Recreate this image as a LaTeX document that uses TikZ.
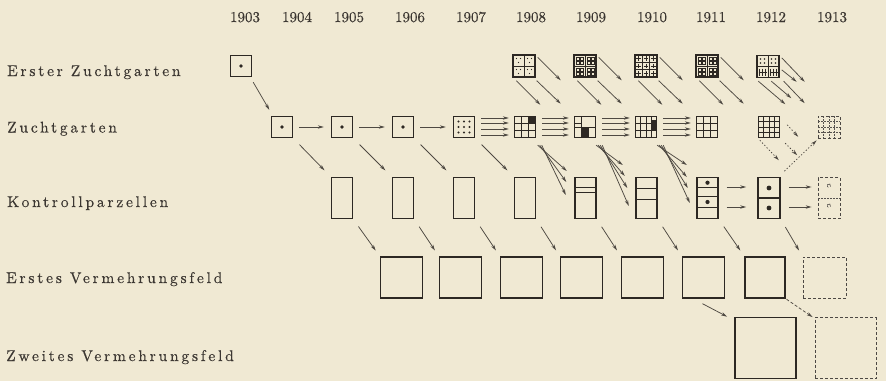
\documentclass[tikz,border=0pt]{standalone}
\usepackage{fontspec}
\newfontfamily\labfont{lmroman10-regular}[Extension=.otf, LetterSpace=18, FakeBold=0.4]
\newfontfamily\yrfont{lmroman10-regular}[Extension=.otf, FakeBold=0.4]
\usetikzlibrary{arrows.meta}
\definecolor{bg}{RGB}{240,233,211}
\definecolor{ink}{RGB}{45,40,35}
\definecolor{arrowc}{RGB}{78,73,66}
\definecolor{txt}{RGB}{60,55,50}
\tikzset{
 box/.style={draw=ink, line width=1.4pt, inner sep=0pt},
 sq/.style={box, minimum width=21pt, minimum height=21pt},
 kp/.style={box, minimum width=21pt, minimum height=41pt},
 ev/.style={box, minimum width=42pt, minimum height=41pt},
 zv/.style={box, line width=1.7pt, minimum width=61pt, minimum height=61pt},
 dbox/.style={draw=ink!85, line width=0.8pt, dash pattern=on 3pt off 2pt, inner sep=0pt},
 arr/.style={draw=arrowc, line width=0.75pt, -{Stealth[length=6pt,width=3.4pt]}},
 darr/.style={arr, dash pattern=on 3pt off 2pt},
 dotarr/.style={arr, dash pattern=on 1.3pt off 2pt},
 gl/.style={draw=ink, line width=0.8pt},
 tl/.style={draw=ink, line width=0.5pt},
 dgl/.style={draw=ink!80, line width=0.6pt, dash pattern=on 1.5pt off 1.5pt},
 yr/.style={text=txt, font=\yrfont\fontsize{15}{16}\selectfont, anchor=base, inner sep=0pt},
 lab/.style={text=txt, font=\labfont\fontsize{15.5}{17}\selectfont, anchor=base west, inner sep=0pt},
}
\newcommand{\cellgrid}[6]{%
 \begin{scope}[shift={(#1.center)}]
  \pgfmathtruncatemacro{\cgc}{#2-1}
  \pgfmathtruncatemacro{\cgr}{#3-1}
  \foreach \k in {1,...,\cgc}{\draw[#6] ({-#4+2*#4*\k/#2},-#5) -- ({-#4+2*#4*\k/#2},#5);}
  \foreach \k in {1,...,\cgr}{\draw[#6] (-#4,{-#5+2*#5*\k/#3}) -- (#4,{-#5+2*#5*\k/#3});}
 \end{scope}}
\newcommand{\seedarr}[1]{%
 \draw[arr] ([shift={(2,3)}]#1.north east) -- ([shift={(25,26)}]#1.north east);
 \draw[arr] ([shift={(4,3)}]#1.south west) -- ([shift={(28,27)}]#1.south west);
 \draw[arr] ([shift={(1,3)}]#1.south east) -- ([shift={(25,26)}]#1.south east);}
\begin{document}
\begin{tikzpicture}[x=1pt,y=-1pt]
\path[use as bounding box, fill=bg] (0,0) rectangle (886,381);

% years
\foreach \yy/\xx in {1903/245,1904/297,1905/349,1906/410,1907/471,1908/531,1909/591,1910/652,1911/711,1912/771,1913/832}
  \node[yr] (y\yy) at (\xx,22) {\yy};

% row labels
\node[lab] (l1) at (7,76) {Erster Zuchtgarten};
\node[lab] (l2) at (7,132.5) {Zuchtgarten};
\node[lab] (l3) at (7,207) {Kontrollparzellen};
\node[lab] (l4) at (6,283) {Erstes Vermehrungsfeld};
\node[lab] (l5) at (6,361) {Zweites Vermehrungsfeld};

% Erster Zuchtgarten
\node[sq] (g03) at (241,66) {};
\fill[ink] (g03) circle (1.8pt);
\node[sq, minimum width=22pt, minimum height=22pt] (g08) at (524,66) {};
\node[sq, minimum width=22pt, minimum height=22pt] (g09) at (585,66) {};
\node[sq, minimum width=22pt, minimum height=22pt] (g10) at (646,66) {};
\node[sq, minimum width=22pt, minimum height=22pt] (g11) at (707,66) {};
\node[sq, minimum width=22pt, minimum height=22pt] (g12) at (768,66.5) {};
\cellgrid{g08}{2}{2}{11}{11}{gl}
\cellgrid{g09}{2}{2}{11}{11}{gl}
\cellgrid{g10}{3}{3}{11}{11}{gl}
\cellgrid{g11}{2}{2}{11}{11}{gl}
\cellgrid{g12}{2}{2}{11}{11}{gl}
% patterns
\begin{scope}[shift={(g08.center)}]
 \foreach \cx in {-5.5,5.5}\foreach \cy in {-5.5,5.5}{
  \fill[ink] (\cx-2,\cy-2) circle (0.7pt) (\cx+2,\cy-2) circle (0.7pt) (\cx,\cy+2) circle (0.7pt);}
\end{scope}
\begin{scope}[shift={(g09.center)}]
 \foreach \cx in {-5.5,5.5}\foreach \cy in {-5.5,5.5}{
  \draw[tl] (\cx-3.5,\cy-3) rectangle (\cx-0.5,\cy) (\cx+0.5,\cy-3) rectangle (\cx+3.5,\cy)
            (\cx-3.5,\cy+0.8) rectangle (\cx-0.5,\cy+3.5) (\cx+0.5,\cy+0.8) rectangle (\cx+3.5,\cy+3.5);}
\end{scope}
\begin{scope}[shift={(g10.center)}]
 \foreach \cx in {-7.33,0,7.33}\foreach \cy in {-7.33,0,7.33}{
  \draw[tl] (\cx-2.3,\cy) -- (\cx+2.3,\cy) (\cx,\cy-2.3) -- (\cx,\cy+2.3);}
\end{scope}
\begin{scope}[shift={(g11.center)}]
 \foreach \cx in {-5.5,5.5}\foreach \cy in {-5.5,5.5}{
  \draw[tl] (\cx-3.5,\cy-3) rectangle (\cx-0.5,\cy) (\cx+0.5,\cy-3) rectangle (\cx+3.5,\cy)
            (\cx-3.5,\cy+0.8) rectangle (\cx-0.5,\cy+3.5) (\cx+0.5,\cy+0.8) rectangle (\cx+3.5,\cy+3.5);}
\end{scope}
\begin{scope}[shift={(g12.center)}]
 \foreach \cx in {-5.5,5.5}{
  \fill[ink] (\cx-2,-7.5) circle (0.8pt) (\cx+2,-7.5) circle (0.8pt) (\cx-2,-3.5) circle (0.8pt) (\cx+2,-3.5) circle (0.8pt);
  \draw[tl] (\cx-3,2) -- (\cx-3,9) (\cx,2) -- (\cx,9) (\cx+3,2) -- (\cx+3,9) (\cx-4,5.5) -- (\cx+4,5.5);}
\end{scope}

% Zuchtgarten
\node[sq] (z04) at (282,127) {};
\node[sq] (z05) at (342,127) {};
\node[sq] (z06) at (403,127) {};
\foreach \n in {z04,z05,z06} \fill[ink] (\n) circle (1.8pt);
\node[sq] (z07) at (464,127) {};
\begin{scope}[shift={(z07.center)}]
 \foreach \cx in {-5.5,0,5.5}\foreach \cy in {-5.5,0,5.5}\fill[ink] (\cx,\cy) circle (1.1pt);
\end{scope}
\node[sq] (z08) at (525,127) {};
\begin{scope}[shift={(z08.center)}]
 \fill[ink] (3.5,-10.5) rectangle (10.5,-3.5);
\end{scope}
\cellgrid{z08}{3}{3}{10.5}{10.5}{gl}
\node[sq] (z09) at (585,127) {};
\begin{scope}[shift={(z09.center)}]
 \fill[ink] (-3.5,0) rectangle (3.5,10.5);
 \draw[gl] (-3.5,-10.5) -- (-3.5,10.5) (3.5,0) -- (3.5,10.5) (-10.5,0) -- (10.5,0) (-10.5,-4) -- (-3.5,-4);
\end{scope}
\node[sq] (z10) at (646,127) {};
\begin{scope}[shift={(z10.center)}]
 \fill[ink] (5.25,-7) rectangle (10.5,3.5);
\end{scope}
\cellgrid{z10}{4}{3}{10.5}{10.5}{gl}
\node[sq] (z11) at (707,127) {};
\cellgrid{z11}{3}{3}{10.5}{10.5}{gl}
\node[sq] (z12) at (769,127) {};
\cellgrid{z12}{4}{4}{10.5}{10.5}{gl}
\node[dbox, minimum width=22pt, minimum height=22pt] (z13) at (829,127) {};
\cellgrid{z13}{4}{4}{11}{11}{dgl}

% Kontrollparzellen
\node[kp] (k05) at (342,198) {};
\node[kp] (k06) at (403,198) {};
\node[kp] (k07) at (464,198) {};
\node[kp] (k08) at (525,198) {};
\node[kp] (k09) at (585.5,198) {};
\node[kp] (k10) at (646.5,198) {};
\node[kp] (k11) at (707.5,198) {};
\node[kp, line width=1.7pt, minimum width=22pt] (k12) at (769,198) {};
\node[dbox, minimum width=22pt, minimum height=41pt] (k13) at (829,198) {};
\begin{scope}[shift={(k09.center)}]
 \draw[gl] (-10.5,-10.7) -- (10.5,-10.7) (-10.5,-6.1) -- (10.5,-6.1);
\end{scope}
\begin{scope}[shift={(k10.center)}]
 \draw[gl] (-10.5,-9.4) -- (10.5,-9.4) (-10.5,1.6) -- (10.5,1.6);
\end{scope}
\begin{scope}[shift={(k11.center)}]
 \draw[gl] (-10.5,-10.5) -- (10.5,-10.5) (-10.5,-1.2) -- (10.5,-1.2) (-10.5,9.5) -- (10.5,9.5);
 \fill[ink] (0,-15.3) circle (2.1pt) (0,4) circle (2.1pt);
\end{scope}
\begin{scope}[shift={(k12.center)}]
 \draw[ink, line width=1.4pt] (-11,0) -- (11,0);
 \fill[ink] (0,-10) circle (2.4pt) (0,10) circle (2.4pt);
\end{scope}
\begin{scope}[shift={(k13.center)}]
 \draw[dgl] (-11,0) -- (11,0);
 \draw[ink!80, line width=0.6pt] (1.5,-11.5) arc (-30:250:1.8pt) (1.5,8.5) arc (-30:250:1.8pt);
\end{scope}

% Erstes Vermehrungsfeld
\node[ev] (e06) at (401.5,277.5) {};
\node[ev] (e07) at (460.5,277.5) {};
\node[ev] (e08) at (521.5,277.5) {};
\node[ev] (e09) at (581.5,277.5) {};
\node[ev] (e10) at (642.5,277.5) {};
\node[ev] (e11) at (703.5,277.5) {};
\node[ev, minimum width=40pt] (e12) at (765,277.5) {};
\node[dbox, minimum width=43pt, minimum height=41pt] (e13) at (824.5,277.5) {};

% Zweites Vermehrungsfeld
\node[zv] (v2a) at (765.5,348) {};
\node[dbox, minimum width=61pt, minimum height=61pt] (v2b) at (845.5,348) {};

% ---------- connectors ----------
\draw[arr] ([shift={(1,5)}]g03.south east) -- ([shift={(-1.5,-6)}]z04.north west);
\seedarr{g08}
\seedarr{g09}
\seedarr{g10}
\seedarr{g11}
\draw[arr] ([shift={(2,3)}]g12.north east) -- ([shift={(25,27)}]g12.north east);
\draw[arr] ([shift={(2,15)}]g12.north east) -- ([shift={(17,27)}]g12.north east);
\draw[arr] ([shift={(2,3)}]g12.south west) -- ([shift={(29,26)}]g12.south west);
\draw[arr] ([shift={(15,3)}]g12.south west) -- ([shift={(35,20)}]g12.south west);
\draw[arr] ([shift={(4,3)}]g12.south east) -- ([shift={(25,25)}]g12.south east);

% Zuchtgarten horizontal
\draw[arr, shorten <=6pt, shorten >=7pt] (z04) -- (z05);
\draw[arr, shorten <=6pt, shorten >=7pt] (z05) -- (z06);
\draw[arr, shorten <=6pt, shorten >=7pt] (z06) -- (z07);
\foreach \a/\b in {z07/z08,z08/z09,z09/z10,z10/z11}
  \foreach \dy in {-9,-4,2,8}
    \draw[arr, shorten <=6pt, shorten >=5pt] ([shift={(0,\dy)}]\a.east) -- ([shift={(0,\dy)}]\b.west);

% Zuchtgarten -> Kontrollparzellen
\foreach \a/\b in {z04/k05,z05/k06,z06/k07,z07/k08}
  \draw[arr, shorten <=9pt, shorten >=9pt] (\a.south east) -- (\b.north west);
\draw[arr] ([shift={(1.5,7)}]z08.south east) -- ([shift={(-7.5,-27)}]k09.west);
\draw[arr] ([shift={(3.5,7)}]z08.south east) -- ([shift={(-8,-16)}]k09.west);
\draw[arr] ([shift={(5.5,7)}]z08.south east) -- ([shift={(-8.5,-3)}]k09.west);
\draw[arr] ([shift={(0,7)}]z09.south east) -- ([shift={(-12.5,-33)}]k10.west);
\draw[arr] ([shift={(2,7)}]z09.south east) -- ([shift={(-10.5,-22)}]k10.west);
\draw[arr] ([shift={(4,7)}]z09.south east) -- ([shift={(-8,-10)}]k10.west);
\draw[arr] ([shift={(6,7)}]z09.south east) -- ([shift={(-6.5,8)}]k10.west);
\draw[arr] ([shift={(0,7)}]z10.south east) -- ([shift={(-9.5,-33)}]k11.west);
\draw[arr] ([shift={(2,7)}]z10.south east) -- ([shift={(-9.5,-21)}]k11.west);
\draw[arr] ([shift={(4,7)}]z10.south east) -- ([shift={(-8.5,-10)}]k11.west);
\draw[arr] ([shift={(6,7)}]z10.south east) -- ([shift={(-6.5,5)}]k11.west);

% dotted from Zuchtgarten 1912
\draw[dotarr] ([shift={(7,9)}]z12.north east) -- ([shift={(18,21)}]z12.north east);
\draw[dotarr] ([shift={(2,2)}]z12.south west) -- ([shift={(21,22)}]z12.south west);
\draw[dotarr] ([shift={(5,5)}]z12.south east) -- ([shift={(17,17)}]z12.south east);
\draw[dotarr] ([shift={(3.5,-5.5)}]k12.north east) -- ([shift={(-1,2)}]z13.south west);

% Kontrollparzellen horizontal
\draw[arr, shorten <=8pt, shorten >=11pt] ([shift={(0,-11)}]k11.east) -- ([shift={(0,-11)}]k12.west);
\draw[arr, shorten <=8pt, shorten >=11pt] ([shift={(0,9)}]k11.east) -- ([shift={(0,9)}]k12.west);
\draw[arr, shorten <=8pt, shorten >=6pt] ([shift={(0,-11)}]k12.east) -- ([shift={(0,-11)}]k13.west);
\draw[arr, shorten <=8pt, shorten >=6pt] ([shift={(0,9)}]k12.east) -- ([shift={(0,9)}]k13.west);

% Kontrollparzellen -> Erstes Vermehrungsfeld
\foreach \a/\b in {k05/e06,k06/e07,k07/e08,k08/e09,k09/e10,k10/e11,k11/e12,k12/e13}
  \draw[arr, shorten <=9pt, shorten >=7pt] (\a.south east) -- (\b.north west);

% Erstes -> Zweites
\draw[arr] ([shift={(-1,5)}]e11.south) -- ([shift={(-7,0)}]v2a.north west);
\draw[darr, shorten <=1pt] (e12.south east) -- ([shift={(-2,0)}]v2b.north west);
\end{tikzpicture}
\end{document}
